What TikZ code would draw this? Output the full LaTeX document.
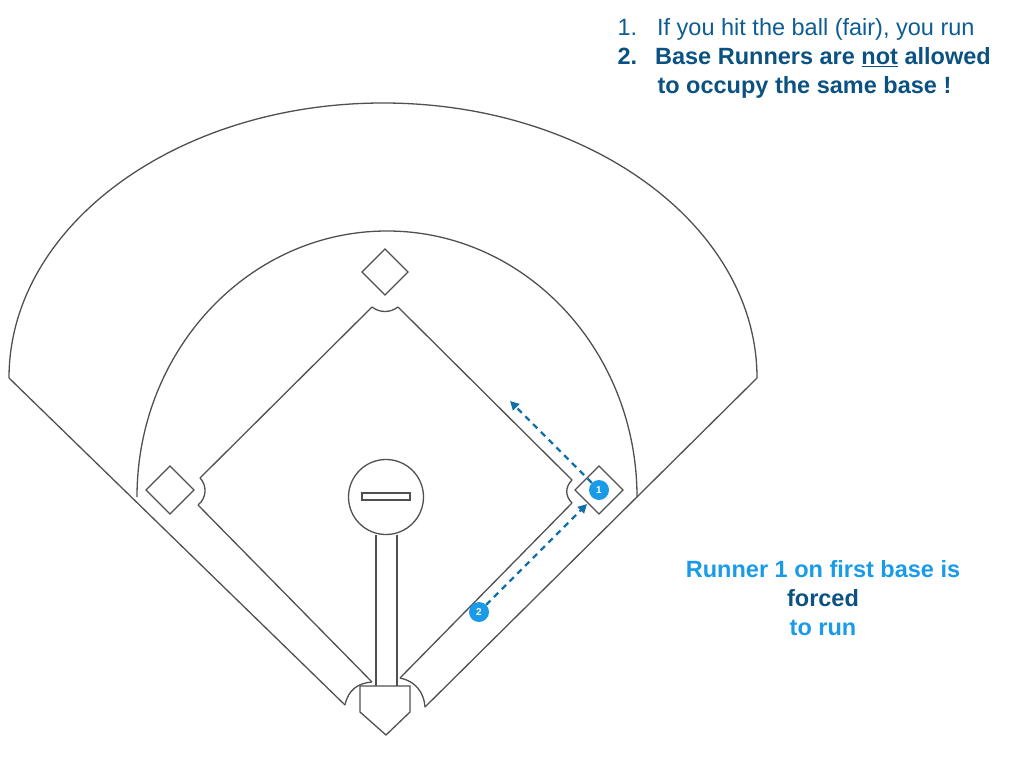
\documentclass[tikz,border=0pt]{standalone}
\usepackage{fontspec}
\setmainfont{Liberation Sans}
\usetikzlibrary{arrows.meta}
\definecolor{lightb}{HTML}{1A9BE8}
\definecolor{darkb}{HTML}{0B5283}
\definecolor{arrb}{HTML}{1270A8}
\definecolor{ln}{HTML}{505050}
\begin{document}
\begin{tikzpicture}[x=1pt,y=-1pt,
  fl/.style={draw=ln,line width=1.3pt},
  base/.style={draw=ln,line width=1.3pt,fill=white},
  run/.style={circle,fill=lightb,text=white,inner sep=0pt,minimum size=20pt,font=\bfseries\fontsize{10}{10}\selectfont},
  dsh/.style={draw=arrb,line width=2.3pt,dash pattern=on 6pt off 5pt,-{Triangle[length=9pt,width=9pt]}},
  txt/.style={font=\fontsize{23.5}{29}\selectfont,align=left,anchor=north west}]
\useasboundingbox (0,0) rectangle (1024,768);
% outer fence
\draw[fl] (757,378) arc[start angle=0,end angle=-180,x radius=374,y radius=275];
\draw[fl] (9,378) -- (345,705);
\draw[fl] (757,378) -- (425,707);
% infield arc
\draw[fl] (637,497) arc[start angle=0,end angle=-180,x radius=250,y radius=266];
% base paths
\draw[fl] (398,307) -- (572,480);
\draw[fl] (372,307) -- (200,478);
\draw[fl] (198,505) -- (372,682);
\draw[fl] (572,503) -- (400,678);
% notches
\draw[fl] (372,307) .. controls (380,313) and (390,313) .. (398,307);
\draw[fl] (200,478) .. controls (207,485) and (207,498) .. (198,505);
\draw[fl] (572,480) .. controls (565,487) and (565,496) .. (572,503);
\draw[fl] (345,705) .. controls (348,690) and (358,683) .. (372,682);
\draw[fl] (400,678) .. controls (415,681) and (424,692) .. (425,707);
% mound and strip
\draw[fl] (376,535) -- (376,686);
\draw[fl] (397,535) -- (397,686);
\node[base,circle,minimum size=75pt,inner sep=0pt] (mound) at (386,497) {};
\draw[fl] (362,493) rectangle (410,500);
% home plate
\draw[base] (360,686) -- (410,686) -- (410,712) -- (386,735) -- (360,712) -- cycle;
% bases
\draw[base] (385,249) -- (408,272) -- (385,295) -- (362,272) -- cycle;
\draw[base] (170,466) -- (194,490) -- (170,514) -- (146,490) -- cycle;
\draw[base] (599,466) -- (623,490) -- (599,514) -- (575,490) -- cycle;
% runners
\node[run] (r1) at (599,490) {1};
\node[run] (r2) at (479,612) {2};
\coordinate (t1) at (510,401);
\coordinate (t2) at (587,504);
\draw[dsh] (r1) -- (t1);
\draw[dsh] (r2) -- (t2);
% text
\node[txt,text=darkb!85!lightb] (l1) at (614,15) {1.\hspace{20pt}If you hit the ball (fair), you run};
\node[txt,text=darkb,font=\bfseries\fontsize{23.5}{29}\selectfont] (l2) at (614,44) {2.\hspace{18pt}Base Runners are \underline{not} allowed\\\hspace{40pt}to occupy the same base !};
\node[font=\bfseries\fontsize{23.5}{29}\selectfont,align=center] (rt) at (823,598) {\textcolor{lightb}{Runner 1 on first base is}\\\textcolor{darkb}{forced}\\\textcolor{lightb}{to run}};
\end{tikzpicture}
\end{document}
